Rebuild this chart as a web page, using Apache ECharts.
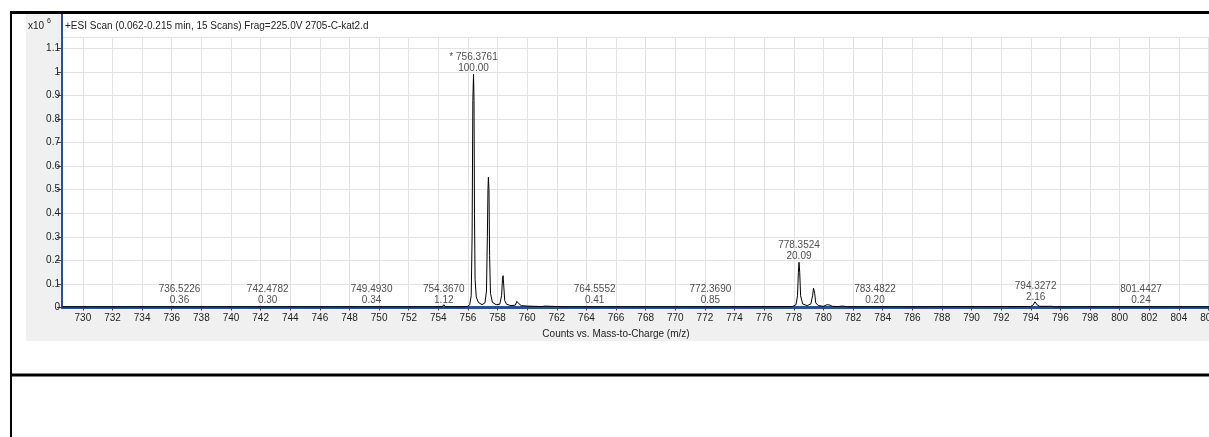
<!DOCTYPE html>
<html>
<head>
<meta charset="utf-8">
<script src="https://cdn.jsdelivr.net/npm/echarts@6/dist/echarts.min.js"></script>
<style>
  html, body { margin: 0; padding: 0; background: #ffffff; }
  #chart { width: 1209px; height: 437px; }
</style>
</head>
<body>
<div id="chart"></div>
<script>
// ---- data (intensity in x10^6 counts) ----
const titleText = '+ESI Scan (0.062-0.215 min, 15 Scans) Frag=225.0V 2705-C-kat2.d';
const xAxisTitle = 'Counts vs. Mass-to-Charge (m/z)';

// x tick labels (m/z)
const xTicks = [730, 732, 734, 736, 738, 740, 742, 744, 746, 748, 750, 752, 754, 756, 758, 760,
  762, 764, 766, 768, 770, 772, 774, 776, 778, 780, 782, 784, 786, 788, 790, 792, 794, 796,
  798, 800, 802, 804, 806];

// profile spectrum: [m/z, counts x10^6]
const profile = [
  [728.6, 0.003], [736.42, 0.003], [736.52, 0.006], [736.62, 0.003],
  [737.42, 0.003], [737.5, 0.005], [737.58, 0.003],
  [738.42, 0.003], [738.5, 0.005], [738.58, 0.003],
  [739.42, 0.003], [739.5, 0.005], [739.58, 0.003],
  [741.32, 0.003], [741.4, 0.005], [741.48, 0.003],
  [742.4, 0.003], [742.48, 0.006], [742.56, 0.003],
  [743.42, 0.003], [743.5, 0.005], [743.58, 0.003],
  [744.32, 0.003], [744.4, 0.005], [744.48, 0.003],
  [747.32, 0.003], [747.4, 0.005], [747.48, 0.003],
  [748.52, 0.003], [748.6, 0.005], [748.68, 0.003],
  [749.41, 0.003], [749.49, 0.006], [749.57, 0.003],
  [750.32, 0.003], [750.4, 0.005], [750.48, 0.003],
  [751.52, 0.003], [751.6, 0.005], [751.68, 0.003],
  [753.42, 0.003], [753.5, 0.006], [753.58, 0.003],
  [754.27, 0.003], [754.37, 0.012], [754.47, 0.003],
  [755.32, 0.003], [755.4, 0.006], [755.48, 0.003],
  [755.95, 0.004], [756.12, 0.012], [756.22, 0.05], [756.28, 0.3], [756.33, 0.88],
  [756.376, 0.99], [756.41, 0.88], [756.44, 0.4], [756.48, 0.12], [756.56, 0.045],
  [756.7, 0.022], [756.95, 0.012], [757.15, 0.02], [757.25, 0.07], [757.31, 0.3],
  [757.35, 0.5], [757.38, 0.553], [757.42, 0.5], [757.46, 0.22], [757.52, 0.06],
  [757.65, 0.022], [757.9, 0.012], [758.15, 0.014], [758.27, 0.05], [758.33, 0.12],
  [758.37, 0.135], [758.41, 0.1], [758.48, 0.03], [758.6, 0.014], [758.9, 0.008],
  [759.2, 0.01], [759.3, 0.026], [759.37, 0.032], [759.44, 0.016], [759.6, 0.008],
  [760.0, 0.006], [760.5, 0.005], [761.0, 0.004], [761.2, 0.006], [761.3, 0.003],
  [762.42, 0.003], [762.5, 0.005], [762.58, 0.003],
  [764.47, 0.003], [764.56, 0.006], [764.64, 0.003],
  [765.32, 0.003], [765.4, 0.005], [765.48, 0.003],
  [766.32, 0.003], [766.4, 0.005], [766.48, 0.003],
  [767.32, 0.003], [767.4, 0.005], [767.48, 0.003],
  [768.42, 0.003], [768.5, 0.005], [768.58, 0.003],
  [770.22, 0.003], [770.3, 0.005], [770.38, 0.003],
  [771.32, 0.003], [771.4, 0.005], [771.48, 0.003],
  [772.28, 0.003], [772.37, 0.01], [772.46, 0.003],
  [773.32, 0.003], [773.4, 0.005], [773.48, 0.003],
  [777.9, 0.004], [778.15, 0.012], [778.25, 0.05], [778.31, 0.15], [778.352, 0.192],
  [778.4, 0.15], [778.46, 0.05], [778.6, 0.015], [778.9, 0.008], [779.15, 0.015],
  [779.27, 0.05], [779.33, 0.082], [779.36, 0.086], [779.41, 0.06], [779.48, 0.02],
  [779.65, 0.008], [780.0, 0.005], [780.25, 0.012], [780.34, 0.02], [780.38, 0.02],
  [780.45, 0.01], [780.6, 0.005], [781.0, 0.004], [781.25, 0.006], [781.45, 0.005],
  [781.6, 0.003],
  [783.4, 0.003], [783.48, 0.005], [783.56, 0.003],
  [785.32, 0.003], [785.4, 0.005], [785.48, 0.003],
  [794.0, 0.004], [794.18, 0.012], [794.28, 0.024], [794.36, 0.024], [794.45, 0.01],
  [794.6, 0.005], [795.2, 0.005], [795.3, 0.009], [795.4, 0.005], [795.6, 0.003],
  [796.32, 0.003], [796.4, 0.006], [796.48, 0.003],
  [797.32, 0.003], [797.4, 0.006], [797.48, 0.003],
  [801.36, 0.003], [801.44, 0.005], [801.52, 0.003],
  [807, 0.003]
];

// annotated peaks
const peakMz = [736.5226, 742.4782, 749.4930, 754.3670, 756.3761, 764.5552, 772.3690, 778.3524, 783.4822, 794.3272, 801.4427];
const peakPct = ['0.36', '0.30', '0.34', '1.12', '100.00', '0.41', '0.85', '20.09', '0.20', '2.16', '0.24'];
const peakCounts = [0.006, 0.006, 0.006, 0.006, 0.99, 0.006, 0.006, 0.192, 0.005, 0.02, 0.005];
const peakMark = ['', '', '', '', '* ', '', '', '', '', '', ''];

const xMin = 728.59, xMax = 807;
const yMin = 0, yMax = 1.1486, yStep = 0.1;

// ---- chart ----
const font = 'Liberation Sans, Arial, sans-serif';
const chart = echarts.init(document.getElementById('chart'), null, { renderer: 'canvas' });

const peakData = peakMz.map((m, i) => ({
  value: [m, peakCounts[i]],
  label: { formatter: peakMark[i] + m.toFixed(4) + '\n' + peakPct[i] }
}));

chart.setOption({
  animation: false,
  backgroundColor: '#ffffff',
  graphic: [
    { type: 'rect', z: -10, shape: { x: 26, y: 14, width: 1183, height: 327 }, style: { fill: '#f0f0f0' } },
    { type: 'rect', z: -9, shape: { x: 62, y: 14, width: 1147, height: 23 }, style: { fill: '#ffffff' } },
    { type: 'line', z: 50, shape: { x1: 62, y1: 14, x2: 62, y2: 38 }, style: { stroke: '#2d4f96', lineWidth: 2 } },
    { type: 'line', z: 100, shape: { x1: 11, y1: 12, x2: 11, y2: 437 }, style: { stroke: '#000', lineWidth: 2 } },
    { type: 'line', z: 100, shape: { x1: 10, y1: 12.5, x2: 1209, y2: 12.5 }, style: { stroke: '#000', lineWidth: 3 } },
    { type: 'line', z: 100, shape: { x1: 10, y1: 375, x2: 1209, y2: 375 }, style: { stroke: '#000', lineWidth: 3 } },
    { type: 'text', z: 100, x: 28, y: 21, style: { text: 'x10', font: '10px ' + font, fill: '#222' } },
    { type: 'text', z: 100, x: 47, y: 18, style: { text: '6', font: '7px ' + font, fill: '#222' } },
    { type: 'text', z: 100, x: 65, y: 21, style: { text: titleText, font: '10px ' + font, fill: '#222' } },
    { type: 'text', z: 100, x: 616, y: 334, style: { text: xAxisTitle, font: '10px ' + font, fill: '#222', align: 'center', verticalAlign: 'middle' } }
  ],
  grid: {
    left: 62, top: 37, width: 1161.3, height: 270.5,
    outerBoundsMode: 'none', containLabel: false,
    show: true, backgroundColor: '#ffffff', borderWidth: 0
  },
  xAxis: {
    type: 'value', min: xMin, max: xMax,
    axisLine: { show: true, onZero: false, lineStyle: { color: '#2d4f96', width: 3 } },
    axisTick: { show: true, length: 3, customValues: xTicks, lineStyle: { color: '#444', width: 1 } },
    axisLabel: {
      customValues: xTicks, margin: 6, hideOverlap: false,
      color: '#222', fontSize: 10, fontFamily: font
    },
    splitLine: { show: true, lineStyle: { color: '#e3e3e3', width: 1 } }
  },
  yAxis: {
    type: 'value', min: yMin, max: yMax, interval: yStep,
    axisLine: { show: true, lineStyle: { color: '#2d4f96', width: 2 } },
    axisTick: { show: true, length: 5, lineStyle: { color: '#444', width: 1 } },
    axisLabel: {
      showMaxLabel: false, margin: 2,
      color: '#222', fontSize: 10, fontFamily: font,
      formatter: v => String(Math.round(v * 10) / 10)
    },
    splitLine: { show: true, lineStyle: { color: '#e3e3e3', width: 1 } }
  },
  series: [
    {
      type: 'line', data: profile, symbol: 'none', silent: true,
      lineStyle: { color: '#000', width: 1 }, z: 3
    },
    {
      type: 'scatter', data: peakData, symbolSize: 1, silent: true,
      itemStyle: { color: 'rgba(0,0,0,0)' }, z: 4,
      label: {
        show: true, position: 'top', distance: 0,
        color: '#222', fontSize: 10, fontFamily: font, lineHeight: 11, align: 'center'
      }
    }
  ]
});
</script>
</body>
</html>
